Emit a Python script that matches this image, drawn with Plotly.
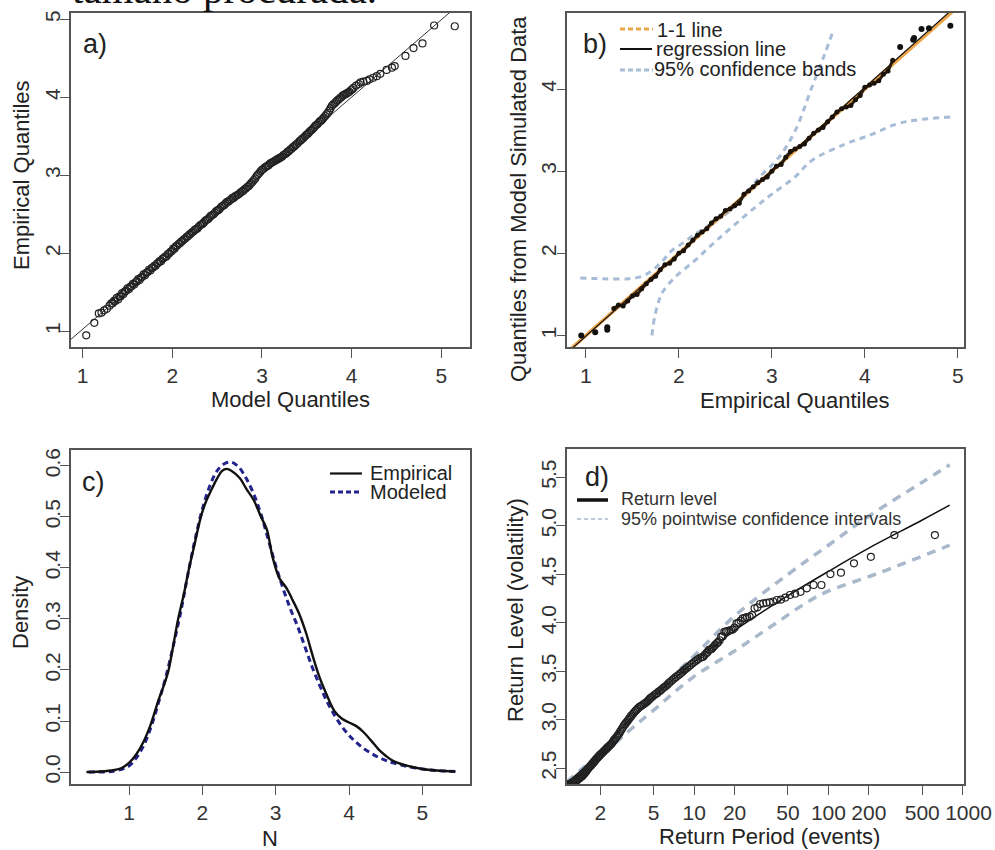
import plotly.graph_objects as go

# ---------------- data ----------------
# a) QQ plot: model vs empirical quantiles
a_model = [1.04, 1.13, 1.18, 1.21, 1.24, 1.27, 1.30,
           1.32, 1.335, 1.35, 1.365, 1.38, 1.395, 1.41, 1.425, 1.44, 1.455, 1.47, 1.485,
           1.5, 1.515, 1.53, 1.545, 1.56, 1.575, 1.59, 1.605, 1.62, 1.635, 1.65, 1.665,
           1.68, 1.695, 1.71, 1.725, 1.74, 1.755, 1.77, 1.785, 1.8, 1.815, 1.83, 1.845,
           1.86, 1.875, 1.89, 1.905, 1.92, 1.935, 1.95, 1.965, 1.98, 1.995,
           2.01, 2.025, 2.04, 2.055, 2.07, 2.085, 2.1, 2.115, 2.13, 2.145, 2.16, 2.175,
           2.19, 2.205, 2.22, 2.235, 2.25, 2.265, 2.28, 2.295, 2.31, 2.325, 2.34, 2.355,
           2.37, 2.385, 2.4, 2.415, 2.43, 2.445, 2.46, 2.475, 2.49, 2.505, 2.52, 2.535,
           2.55, 2.565, 2.58, 2.595, 2.61, 2.625, 2.64, 2.655, 2.67, 2.685, 2.7, 2.715,
           2.73, 2.745, 2.76, 2.775, 2.79, 2.805, 2.82, 2.835, 2.85, 2.865, 2.88, 2.895,
           2.91, 2.925, 2.94, 2.955, 2.97, 2.985, 3.0, 3.015, 3.03, 3.045, 3.06, 3.075,
           3.09, 3.105, 3.12, 3.135, 3.15, 3.165, 3.18, 3.195, 3.21, 3.225, 3.24, 3.255,
           3.27, 3.285, 3.3, 3.315, 3.33, 3.345, 3.36, 3.375, 3.39, 3.405, 3.42, 3.435,
           3.45, 3.465, 3.48, 3.495, 3.51, 3.525, 3.54, 3.555, 3.57, 3.585, 3.6, 3.615,
           3.63, 3.645, 3.66, 3.675, 3.69, 3.705, 3.72, 3.735, 3.75, 3.765, 3.78, 3.795,
           3.81, 3.825, 3.84, 3.855, 3.87, 3.885, 3.9, 3.915, 3.93, 3.945, 3.96, 3.975,
           3.99, 4.005, 4.02,
           4.05, 4.08, 4.10, 4.13, 4.17, 4.20, 4.24, 4.28, 4.32, 4.39, 4.45, 4.48, 4.60,
           4.69, 4.79, 4.92, 5.15]
a_emp = [0.95, 1.11, 1.23, 1.24, 1.27, 1.29, 1.33,
         1.36, 1.36, 1.39, 1.39, 1.43, 1.41, 1.45, 1.45, 1.49, 1.48, 1.51, 1.52,
         1.55, 1.54, 1.57, 1.58, 1.61, 1.60, 1.63, 1.64, 1.67, 1.66, 1.69, 1.70,
         1.73, 1.72, 1.75, 1.76, 1.79, 1.78, 1.81, 1.82, 1.84, 1.84, 1.87, 1.88,
         1.90, 1.90, 1.93, 1.94, 1.96, 1.96, 1.99, 2.00, 2.02, 2.03,
         2.06, 2.06, 2.09, 2.10, 2.12, 2.13, 2.15, 2.16, 2.18, 2.19, 2.21, 2.22,
         2.24, 2.25, 2.27, 2.28, 2.30, 2.31, 2.32, 2.34, 2.36, 2.37, 2.38, 2.40,
         2.42, 2.43, 2.44, 2.46, 2.48, 2.49, 2.50, 2.52, 2.54, 2.55, 2.56, 2.58,
         2.60, 2.61, 2.62, 2.64, 2.66, 2.66, 2.68, 2.69, 2.71, 2.71, 2.73, 2.74,
         2.75, 2.76, 2.78, 2.79, 2.80, 2.82, 2.83, 2.85, 2.86, 2.88, 2.90, 2.92,
         2.94, 2.96, 2.99, 3.01, 3.03, 3.05, 3.07, 3.08, 3.10, 3.11, 3.12, 3.13,
         3.15, 3.16, 3.17, 3.18, 3.19, 3.20, 3.21, 3.22, 3.23, 3.24, 3.26, 3.27,
         3.28, 3.30, 3.31, 3.33, 3.34, 3.36, 3.37, 3.39, 3.40, 3.42, 3.44, 3.45,
         3.47, 3.48, 3.50, 3.52, 3.53, 3.55, 3.57, 3.58, 3.60, 3.62, 3.64, 3.65,
         3.67, 3.69, 3.70, 3.72, 3.74, 3.76, 3.78, 3.80, 3.83, 3.86, 3.89, 3.91,
         3.92, 3.94, 3.96, 3.97, 3.99, 4.00, 4.02, 4.03, 4.04, 4.05, 4.06, 4.07,
         4.09, 4.10, 4.12,
         4.15, 4.17, 4.19, 4.20, 4.21, 4.23, 4.25, 4.27, 4.30, 4.35, 4.38, 4.40, 4.53,
         4.63, 4.69, 4.92, 4.91]
a_ref_x = [0.80, 5.40]
a_ref_y = [0.83, 5.39]

# b) empirical quantiles vs quantiles from model simulated data
b_emp = [1.30, 1.35, 1.40, 1.45, 1.50, 1.55, 1.60, 1.65, 1.70, 1.75, 1.80, 1.85, 1.90, 1.95,
         2.00, 2.05, 2.10, 2.15, 2.20, 2.25, 2.30, 2.35, 2.40, 2.45, 2.50, 2.55, 2.60, 2.65,
         2.70, 2.75, 2.80, 2.85, 2.90, 2.95, 3.00, 3.05, 3.10, 3.15, 3.20, 3.25, 3.30, 3.35,
         3.40, 3.45, 3.50, 3.55, 3.60, 3.65, 3.70, 3.75, 3.80, 3.85, 3.90, 3.95, 4.00, 4.05,
         4.10, 4.15, 4.20, 4.25, 4.30]
b_sim = [1.33, 1.37, 1.36, 1.42, 1.48, 1.50, 1.57, 1.63, 1.68, 1.72, 1.80, 1.86, 1.88, 1.93,
         2.00, 2.03, 2.10, 2.16, 2.22, 2.26, 2.30, 2.37, 2.42, 2.45, 2.52, 2.54, 2.58, 2.61,
         2.72, 2.76, 2.81, 2.86, 2.90, 2.93, 3.00, 3.06, 3.08, 3.17, 3.24, 3.27, 3.30, 3.33,
         3.40, 3.46, 3.50, 3.53, 3.60, 3.66, 3.72, 3.76, 3.78, 3.80, 3.87, 3.92, 4.02, 4.05,
         4.07, 4.10, 4.18, 4.22, 4.35]
b_tail_emp = [0.95, 1.10, 1.23, 1.23, 4.38, 4.52, 4.53, 4.61, 4.69, 4.92]
b_tail_sim = [1.00, 1.04, 1.07, 1.10, 4.51, 4.60, 4.62, 4.73, 4.74, 4.77]
b_one_x = [0.70, 5.20]
b_one_y = [0.70, 5.20]
b_reg_x = [0.70, 5.20]
b_reg_y = [0.69, 5.23]
b_up_x = [0.94, 1.20, 1.46, 1.60, 1.71, 1.82, 1.92, 2.05, 2.17, 2.35, 2.53, 2.70, 2.86, 3.07,
          3.25, 3.43, 3.57, 3.66]
b_up_y = [1.70, 1.69, 1.69, 1.72, 1.79, 1.90, 2.03, 2.13, 2.23, 2.36, 2.50, 2.69, 2.92, 3.16,
          3.49, 4.02, 4.43, 4.71]
b_lo_x = [1.71, 1.74, 1.78, 1.82, 1.96, 2.17, 2.35, 2.53, 2.82, 3.00, 3.25, 3.43, 3.79, 4.08,
          4.33, 4.54, 4.92]
b_lo_y = [1.00, 1.23, 1.40, 1.52, 1.71, 1.91, 2.10, 2.28, 2.56, 2.72, 2.93, 3.13, 3.33, 3.45,
          3.57, 3.62, 3.66]

# c) density
c_emp_x = [0.42, 0.60, 0.80, 0.90, 1.00, 1.10, 1.20, 1.30, 1.40, 1.50, 1.54, 1.60, 1.67,
           1.75, 1.82, 1.90, 1.98, 2.05, 2.13, 2.20, 2.27, 2.33, 2.40, 2.51, 2.60, 2.70,
           2.80, 2.88, 2.96, 3.05, 3.15, 3.22, 3.32, 3.42, 3.50, 3.60, 3.70, 3.80, 3.90,
           4.00, 4.10, 4.20, 4.30, 4.40, 4.50, 4.60, 4.80, 5.00, 5.20, 5.45]
c_emp_y = [0.000, 0.001, 0.004, 0.008, 0.018, 0.035, 0.060, 0.095, 0.140, 0.180, 0.200,
           0.245, 0.300, 0.350, 0.400, 0.450, 0.500, 0.530, 0.555, 0.575, 0.590, 0.594,
           0.590, 0.576, 0.555, 0.533, 0.500, 0.475, 0.420, 0.380, 0.360, 0.340, 0.310,
           0.270, 0.230, 0.185, 0.150, 0.120, 0.105, 0.097, 0.090, 0.078, 0.062, 0.045,
           0.032, 0.022, 0.012, 0.006, 0.003, 0.001]
c_mod_x = [0.45, 0.80, 1.00, 1.10, 1.20, 1.30, 1.40, 1.50, 1.60, 1.70, 1.80, 1.90, 2.00,
           2.10, 2.20, 2.30, 2.40, 2.50, 2.60, 2.70, 2.80, 2.90, 3.00, 3.10, 3.20, 3.30,
           3.40, 3.50, 3.60, 3.70, 3.80, 3.90, 4.00, 4.10, 4.20, 4.30, 4.40, 4.50, 4.60,
           4.80, 5.00, 5.20, 5.45]
c_mod_y = [0.000, 0.002, 0.012, 0.028, 0.052, 0.088, 0.135, 0.185, 0.245, 0.310, 0.385,
           0.455, 0.515, 0.560, 0.590, 0.604, 0.607, 0.597, 0.575, 0.545, 0.505, 0.455,
           0.405, 0.360, 0.320, 0.285, 0.245, 0.205, 0.170, 0.138, 0.112, 0.090, 0.072,
           0.058, 0.046, 0.037, 0.029, 0.023, 0.018, 0.011, 0.006, 0.003, 0.001]

# d) return level plot
d_rl_x = [1.125, 1.5, 2, 3, 5, 10, 20, 50, 100, 200, 500, 800]
d_rl_y = [2.345, 2.50, 2.65, 2.94, 3.24, 3.595, 3.92, 4.28, 4.53, 4.77, 5.06, 5.214]
d_up_x = [1.125, 2, 5, 10, 20, 50, 100, 200, 500, 800]
d_up_y = [2.36, 2.67, 3.26, 3.66, 4.07, 4.50, 4.80, 5.10, 5.45, 5.63]
d_lo_x = [1.125, 2, 3.33, 5, 9.84, 20, 38.8, 86.5, 204, 272, 800]
d_lo_y = [2.33, 2.62, 2.895, 3.10, 3.44, 3.71, 3.977, 4.287, 4.48, 4.544, 4.80]
d_pts_x = [621, 310, 207, 155, 124, 103.5, 88.7, 77.6, 69, 62, 56.5, 51.7, 47.8, 44.4, 41.4,
           38.8, 36.5, 34.5, 32.7, 31, 29.6, 28.2, 27, 25.9, 24.8, 23.9, 23, 22.2, 21.4, 20.7,
           20, 19.4, 18.8, 18.3, 17.7, 17.25, 16.8, 16.3, 15.9, 15.5, 15.1, 14.8, 14.4, 14.1,
           13.8, 13.5, 13.2, 12.9, 12.6, 12.4, 12.0, 11.7, 11.4, 11.1, 10.7, 10.35,
           10.0, 9.7, 9.4, 9.13, 8.85, 8.6, 8.4, 8.2, 8.0, 7.8, 7.55, 7.3, 7.1, 6.9, 6.7,
           6.5, 6.35, 6.2, 6.05, 5.9, 5.75, 5.6, 5.45, 5.3, 5.2, 5.05, 4.9, 4.8, 4.7, 4.6,
           4.5, 4.4, 4.3, 4.2, 4.1, 4.0, 3.9, 3.8, 3.72, 3.65, 3.57, 3.5, 3.42, 3.36, 3.3,
           3.24, 3.18, 3.12, 3.06, 3.0, 2.94, 2.88, 2.82, 2.77, 2.72, 2.67, 2.62, 2.57,
           2.53, 2.49, 2.45, 2.41, 2.37, 2.33, 2.29, 2.25, 2.22, 2.18, 2.14, 2.11, 2.07,
           2.04, 2.0, 1.97, 1.94, 1.91, 1.88, 1.855, 1.83, 1.805, 1.78, 1.755, 1.73, 1.705,
           1.68, 1.655, 1.63, 1.61, 1.59, 1.57, 1.55, 1.53, 1.51, 1.49, 1.47, 1.45, 1.43,
           1.41, 1.39, 1.37, 1.35, 1.33, 1.31, 1.29, 1.27, 1.25, 1.23, 1.21, 1.19, 1.17,
           1.15, 1.13, 1.11]
d_pts_y = [4.905, 4.905, 4.68, 4.613, 4.517, 4.503, 4.39, 4.39, 4.356, 4.32, 4.30, 4.287,
           4.26, 4.24, 4.235, 4.22, 4.21, 4.207, 4.20, 4.194, 4.16, 4.15, 4.08, 4.063, 4.06,
           4.05, 4.046, 4.02, 4.00, 3.995, 3.95, 3.93, 3.926, 3.92, 3.915, 3.91, 3.908, 3.86,
           3.857, 3.82, 3.80, 3.79, 3.775, 3.76, 3.745, 3.73, 3.725, 3.72, 3.70, 3.69, 3.67,
           3.65, 3.645, 3.64, 3.625, 3.61,
           3.595, 3.58, 3.565, 3.55, 3.535, 3.52, 3.51, 3.495, 3.485, 3.47, 3.455, 3.44,
           3.425, 3.41, 3.395, 3.38, 3.365, 3.35, 3.34, 3.33, 3.315, 3.30, 3.29, 3.275,
           3.265, 3.255, 3.24, 3.23, 3.22, 3.205, 3.19, 3.18, 3.17, 3.16, 3.15, 3.14, 3.13,
           3.115, 3.10, 3.09, 3.075, 3.06, 3.045, 3.03, 3.015, 3.00, 2.985, 2.97, 2.955,
           2.94, 2.92, 2.90, 2.88, 2.86, 2.845, 2.83, 2.815, 2.80, 2.79, 2.775, 2.76, 2.75,
           2.74, 2.73, 2.72, 2.71, 2.70, 2.69, 2.68, 2.67, 2.66, 2.65, 2.64, 2.63, 2.62,
           2.61, 2.60, 2.59, 2.58, 2.57, 2.56, 2.55, 2.54, 2.53, 2.52, 2.51, 2.50, 2.49,
           2.48, 2.47, 2.46, 2.45, 2.44, 2.43, 2.42, 2.415, 2.41, 2.40, 2.395, 2.39, 2.38,
           2.375, 2.37, 2.365, 2.36, 2.355, 2.35, 2.345, 2.34, 2.335, 2.33, 2.325, 2.32]
d_tickvals = [2, 5, 10, 20, 50, 100, 200, 500, 1000]
d_ticktext = ["2", "5", "10", "20", "50", "100", "200", "500", "\u00a0\u00a01000"]

# ---------------- figure ----------------
W, H = 995, 850
FONT = "Liberation Sans, Arial, sans-serif"
INK = "#222222"
FRAME = "#555555"
CI_B = "#a7bcd6"
CI_D = "#a9b9cb"
ORANGE = "#eda54a"
NAVY = "#23238c"


def px(x):
    return x / W


def py(y):
    return 1 - y / H


fig = go.Figure()

# a)
fig.add_trace(go.Scatter(x=a_ref_x, y=a_ref_y, mode="lines",
                         line=dict(color="#333333", width=1), xaxis="x", yaxis="y"))
fig.add_trace(go.Scatter(x=a_model, y=a_emp, mode="markers",
                         marker=dict(symbol="circle-open", size=7, color=INK,
                                     line=dict(width=1.2, color=INK)),
                         xaxis="x", yaxis="y"))

# b)
fig.add_trace(go.Scatter(x=b_up_x, y=b_up_y, mode="lines",
                         line=dict(color=CI_B, width=3, dash="6px,5px", shape="spline"),
                         xaxis="x2", yaxis="y2"))
fig.add_trace(go.Scatter(x=b_lo_x, y=b_lo_y, mode="lines",
                         line=dict(color=CI_B, width=3, dash="6px,5px", shape="spline"),
                         xaxis="x2", yaxis="y2"))
fig.add_trace(go.Scatter(x=b_one_x, y=b_one_y, mode="lines",
                         line=dict(color=ORANGE, width=3.5), xaxis="x2", yaxis="y2"))
fig.add_trace(go.Scatter(x=b_reg_x, y=b_reg_y, mode="lines",
                         line=dict(color="#111111", width=1.2), xaxis="x2", yaxis="y2"))
fig.add_trace(go.Scatter(x=b_emp, y=b_sim, mode="lines+markers",
                         line=dict(color="#2a1c0e", width=3),
                         marker=dict(size=5, color="#1a1209"),
                         xaxis="x2", yaxis="y2"))
fig.add_trace(go.Scatter(x=b_tail_emp, y=b_tail_sim, mode="markers",
                         marker=dict(size=6, color="#111111"),
                         xaxis="x2", yaxis="y2"))

# c)
fig.add_trace(go.Scatter(x=c_mod_x, y=c_mod_y, mode="lines",
                         line=dict(color=NAVY, width=3, dash="6px,4px", shape="spline"),
                         xaxis="x3", yaxis="y3"))
fig.add_trace(go.Scatter(x=c_emp_x, y=c_emp_y, mode="lines",
                         line=dict(color="#111111", width=2.4, shape="spline"),
                         xaxis="x3", yaxis="y3"))

# d)
fig.add_trace(go.Scatter(x=d_up_x, y=d_up_y, mode="lines",
                         line=dict(color=CI_D, width=3.5, dash="9px,7px", shape="spline"),
                         xaxis="x4", yaxis="y4"))
fig.add_trace(go.Scatter(x=d_lo_x, y=d_lo_y, mode="lines",
                         line=dict(color=CI_D, width=3.5, dash="9px,7px", shape="spline"),
                         xaxis="x4", yaxis="y4"))
fig.add_trace(go.Scatter(x=d_rl_x, y=d_rl_y, mode="lines",
                         line=dict(color="#111111", width=1.5, shape="spline"),
                         xaxis="x4", yaxis="y4"))
fig.add_trace(go.Scatter(x=d_pts_x, y=d_pts_y, mode="markers",
                         marker=dict(symbol="circle-open", size=7, color=INK,
                                     line=dict(width=1.2, color=INK)),
                         xaxis="x4", yaxis="y4"))

axis_common = dict(showline=True, mirror=True, linecolor=FRAME, linewidth=1.5,
                   ticks="outside", ticklen=9, tickwidth=1.4, tickcolor=FRAME,
                   showgrid=False, zeroline=False, automargin=False,
                   tickfont=dict(family=FONT, size=21, color="#333333"))
xcommon = dict(tickangle=0, **axis_common)
ycommon = dict(tickangle=-90, ticklabelstandoff=-8, **axis_common)

layout_axes = dict(
    xaxis=dict(domain=[px(71), px(470)], range=[0.87, 5.32], tickvals=[1, 2, 3, 4, 5],
               anchor="y", **xcommon),
    yaxis=dict(domain=[py(347), py(13)], range=[0.80, 5.08], tickvals=[1, 2, 3, 4, 5],
               anchor="x", **ycommon),
    xaxis2=dict(domain=[px(567.3), px(964.3)], range=[0.80, 5.07], tickvals=[1, 2, 3, 4, 5],
                anchor="y2", **xcommon),
    yaxis2=dict(domain=[py(347), py(13)], range=[0.86, 4.925], tickvals=[1, 2, 3, 4],
                anchor="x2", **ycommon),
    xaxis3=dict(domain=[px(71), px(470)], range=[0.209, 5.65], tickvals=[1, 2, 3, 4, 5],
                anchor="y3", **xcommon),
    yaxis3=dict(domain=[py(784.3), py(450)], range=[-0.024, 0.631],
                tickvals=[0, 0.1, 0.2, 0.3, 0.4, 0.5, 0.6], tickformat=".1f",
                anchor="x3", **ycommon),
    xaxis4=dict(domain=[px(566.7), px(964.3)], type="log", range=[0.051, 3.012],
                tickvals=d_tickvals, ticktext=d_ticktext,
                anchor="y4", **xcommon),
    yaxis4=dict(domain=[py(784.3), py(449.3)], range=[2.335, 5.789],
                tickvals=[2.5, 3.0, 3.5, 4.0, 4.5, 5.0, 5.5], tickformat=".1f",
                anchor="x4", **ycommon),
)

annotations = []


def text(t, x, y, size=21, angle=0, xanchor="center", color="#222222", family=FONT,
         yanchor="middle"):
    annotations.append(dict(text=t, x=px(x), y=py(y), xref="paper", yref="paper",
                            showarrow=False, textangle=angle, xanchor=xanchor,
                            yanchor=yanchor,
                            font=dict(family=family, size=size, color=color)))


# cropped document text at the top
text("tamaño procurada.", 70, 14, size=41, xanchor="left", yanchor="bottom",
     color="#111111", family="Liberation Serif, Times New Roman, serif")

# axis titles
text("Model Quantiles", 290, 399, size=22)
text("Empirical Quantiles", 22, 175, size=22, angle=-90)
text("Empirical Quantiles", 795, 401, size=22)
text("Quantiles from Model Simulated Data", 518, 199, size=22, angle=-90)
text("N", 270, 838, size=22)
text("Density", 20, 613, size=22, angle=-90)
text("Return Period (events)", 769, 836, size=22)
text("Return Level (volatility)", 515, 610, size=22, angle=-90)

# panel labels
text("a)", 95, 44, size=27)
text("b)", 595, 44, size=27)
text("c)", 93.5, 482, size=27)
text("d)", 596.5, 477, size=27)

# legends
text("1-1 line", 655, 30, size=20, xanchor="left")
text("regression line", 654, 49, size=20, xanchor="left")
text("95% confidence bands", 652, 69, size=20, xanchor="left")
text("Empirical", 368, 473, size=20, xanchor="left")
text("Modeled", 368, 492, size=20, xanchor="left")
text("Return level", 619, 499, size=18, xanchor="left", color="#333333")
text("95% pointwise confidence intervals", 619, 519, size=18, xanchor="left",
     color="#333333")

shapes = []


def seg(x0, x1, y, color, width, dash="solid"):
    shapes.append(dict(type="line", xref="paper", yref="paper",
                       x0=px(x0), x1=px(x1), y0=py(y), y1=py(y), layer="above",
                       line=dict(color=color, width=width, dash=dash)))


seg(620, 653, 29, ORANGE, 3, "5px,3px")
seg(620, 652, 49, "#111111", 2)
seg(620, 653, 70, CI_B, 3, "5px,3px")
seg(330, 362, 473.5, "#111111", 2.2)
seg(330, 362, 492, NAVY, 3, "5px,3px")
seg(577, 608, 500, "#111111", 3.5)
seg(577, 608, 519, CI_D, 1.6, "4px,3px")

fig.update_layout(
    width=W, height=H, margin=dict(l=0, r=0, t=0, b=0, autoexpand=False),
    paper_bgcolor="white", plot_bgcolor="white", showlegend=False,
    font=dict(family=FONT, color="#222222"),
    annotations=annotations, shapes=shapes,
    **layout_axes,
)

fig.write_html("out.html", config={"displayModeBar": False})
